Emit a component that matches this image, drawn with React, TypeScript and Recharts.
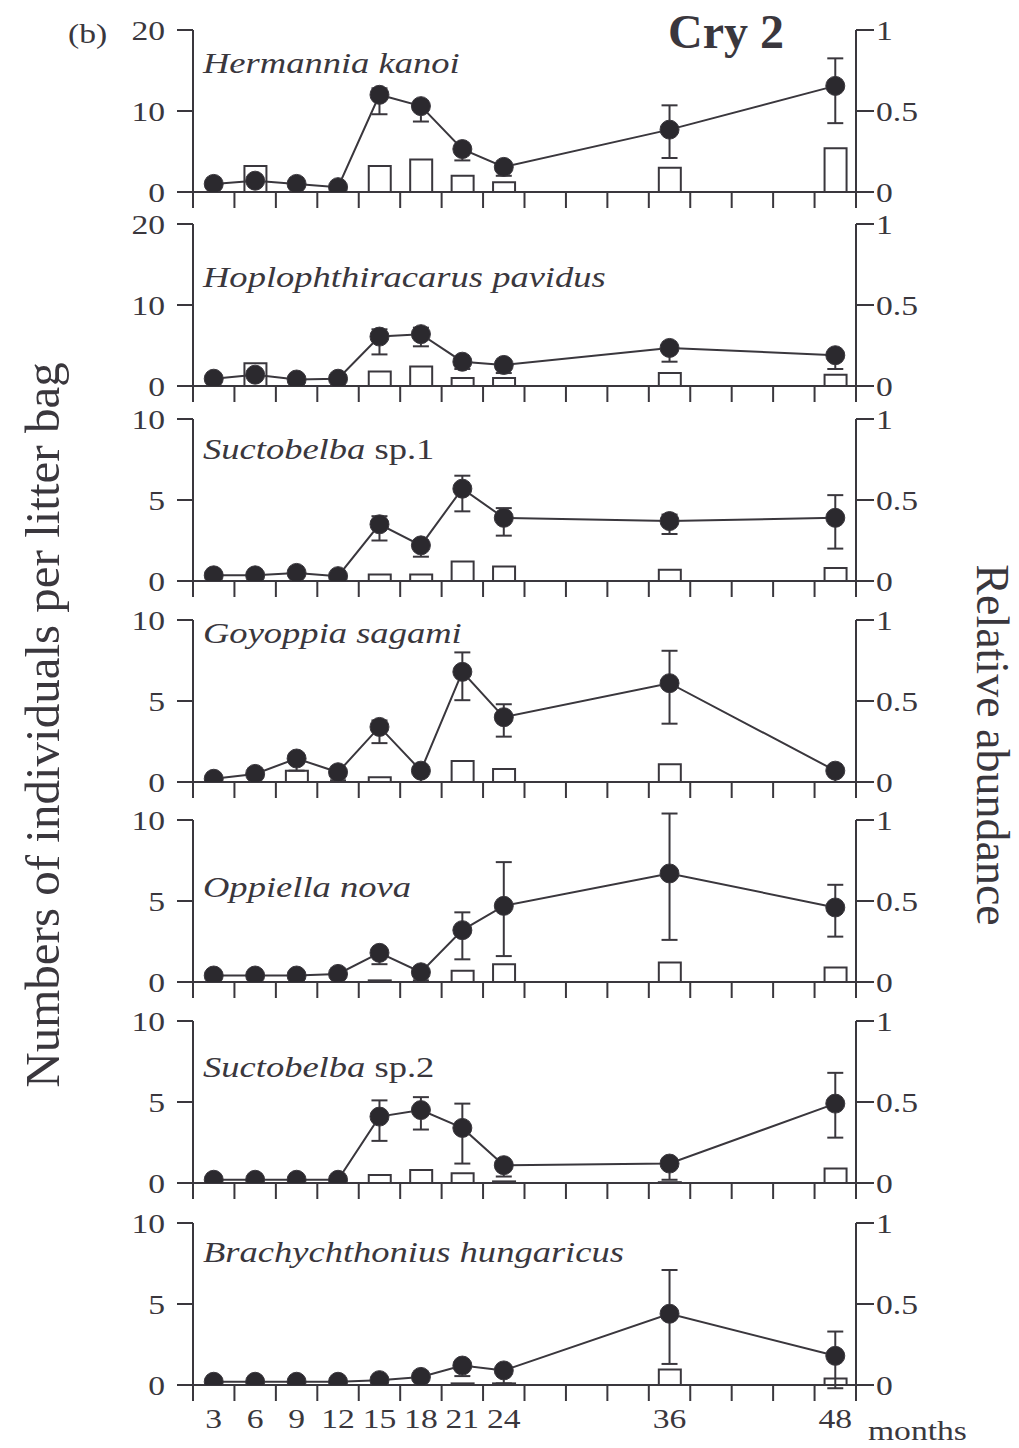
import { Bar, ComposedChart, ErrorBar, Line, XAxis, YAxis } from 'recharts';

const INK = '#3a373d';
const DOT = '#2b292e';
const FONT = '"Liberation Serif", "Times New Roman", serif';

// sampling months and axis ticks
const months = [3, 6, 9, 12, 15, 18, 21, 24, 36, 48];
const tickMarks = [1.5, 4.5, 7.5, 10.5, 13.5, 16.5, 19.5, 22.5, 25.5, 28.5, 31.5, 34.5, 37.5, 40.5, 43.5, 46.5, 49.5];
const relTicks = [0, 0.5, 1];
const ticks20 = [0, 10, 20];
const ticks10 = [0, 5, 10];

// Hermannia kanoi
const hkN = [1.0, 1.4, 1.0, 0.6, 12.0, 10.6, 5.3, 3.1, 7.7, 13.1];
const hkHi = [1.0, 1.4, 1.0, 0.6, 12.8, 11.2, 5.6, 3.5, 10.7, 16.5];
const hkLo = [1.0, 1.4, 1.0, 0.3, 9.6, 8.7, 3.9, 2.0, 4.2, 8.5];
const hkRel = [0, 0.16, 0, 0, 0.16, 0.2, 0.1, 0.06, 0.15, 0.27];

// Hoplophthiracarus pavidus
const hpN = [0.9, 1.4, 0.8, 0.9, 6.1, 6.4, 3.0, 2.6, 4.7, 3.8];
const hpHi = [0.9, 1.4, 0.8, 0.9, 7.0, 7.2, 3.1, 3.1, 4.9, 4.1];
const hpLo = [0.9, 1.0, 0.8, 0.6, 3.9, 4.9, 2.1, 1.6, 3.0, 2.1];
const hpRel = [0, 0.14, 0, 0, 0.09, 0.12, 0.05, 0.05, 0.08, 0.07];

// Suctobelba sp.1
const s1N = [0.35, 0.35, 0.5, 0.3, 3.5, 2.2, 5.7, 3.9, 3.7, 3.9];
const s1Hi = [0.35, 0.35, 0.5, 0.3, 4.0, 2.5, 6.5, 4.5, 4.1, 5.3];
const s1Lo = [0.35, 0.35, 0.5, 0.3, 2.5, 1.5, 4.3, 2.8, 2.9, 2.0];
const s1Rel = [0, 0, 0, 0, 0.04, 0.04, 0.12, 0.09, 0.07, 0.08];

// Goyoppia sagami
const gsN = [0.2, 0.5, 1.45, 0.6, 3.4, 0.7, 6.8, 4.0, 6.1, 0.7];
const gsHi = [0.2, 0.5, 1.75, 0.6, 3.8, 0.7, 8.0, 4.8, 8.1, 0.7];
const gsLo = [0.2, 0.5, 0.7, 0.1, 2.4, 0.0, 5.05, 2.8, 3.6, 0.0];
const gsRel = [0, 0, 0.07, 0, 0.03, 0, 0.13, 0.08, 0.11, 0];

// Oppiella nova
const onN = [0.4, 0.4, 0.4, 0.5, 1.8, 0.6, 3.2, 4.7, 6.7, 4.6];
const onHi = [0.4, 0.4, 0.4, 0.5, 2.0, 0.6, 4.3, 7.4, 10.4, 6.0];
const onLo = [0.4, 0.4, 0.4, 0.5, 1.1, 0.1, 1.4, 1.6, 2.6, 2.8];
const onRel = [0, 0, 0, 0, 0.01, 0, 0.07, 0.11, 0.12, 0.09];

// Suctobelba sp.2
const s2N = [0.2, 0.2, 0.2, 0.2, 4.1, 4.5, 3.4, 1.1, 1.2, 4.9];
const s2Hi = [0.2, 0.2, 0.2, 0.2, 5.1, 5.3, 4.9, 1.2, 1.5, 6.8];
const s2Lo = [0.2, 0.2, 0.2, 0.2, 2.6, 3.3, 1.2, 0.4, 0.2, 2.8];
const s2Rel = [0, 0, 0, 0, 0.05, 0.08, 0.06, 0.01, 0.005, 0.09];

// Brachychthonius hungaricus
const bhN = [0.2, 0.2, 0.2, 0.2, 0.3, 0.5, 1.2, 0.9, 4.4, 1.8];
const bhHi = [0.2, 0.2, 0.2, 0.2, 0.3, 0.5, 1.3, 1.0, 7.1, 3.3];
const bhLo = [0.2, 0.2, 0.2, 0.2, 0.3, 0.0, 0.55, 0.1, 1.3, -0.2];
const bhRel = [0, 0, 0, 0, 0, 0, 0.01, 0.01, 0.095, 0.04];

const panels = [
  { genus: 'Hermannia kanoi', suffix: '', n: hkN, hi: hkHi, lo: hkLo, rel: hkRel, max: 20, yt: ticks20, top: 30, base: 73 },
  { genus: 'Hoplophthiracarus pavidus', suffix: '', n: hpN, hi: hpHi, lo: hpLo, rel: hpRel, max: 20, yt: ticks20, top: 224, base: 287 },
  { genus: 'Suctobelba', suffix: ' sp.1', n: s1N, hi: s1Hi, lo: s1Lo, rel: s1Rel, max: 10, yt: ticks10, top: 419, base: 459 },
  { genus: 'Goyoppia sagami', suffix: '', n: gsN, hi: gsHi, lo: gsLo, rel: gsRel, max: 10, yt: ticks10, top: 620, base: 643 },
  { genus: 'Oppiella nova', suffix: '', n: onN, hi: onHi, lo: onLo, rel: onRel, max: 10, yt: ticks10, top: 820, base: 897 },
  { genus: 'Suctobelba', suffix: ' sp.2', n: s2N, hi: s2Hi, lo: s2Lo, rel: s2Rel, max: 10, yt: ticks10, top: 1021, base: 1077 },
  { genus: 'Brachychthonius hungaricus', suffix: '', n: bhN, hi: bhHi, lo: bhLo, rel: bhRel, max: 10, yt: ticks10, top: 1223, base: 1262 },
];

const PH = 162;

function ScaledTick(props: any) {
  const { x, y, payload, textAnchor, dy } = props;
  return (
    <text
      transform={`translate(${x},${y}) scale(1.2,1)`}
      textAnchor={textAnchor}
      dy={dy}
      fontFamily={FONT}
      fontSize={28}
      fill={INK}
    >
      {String(payload.value)}
    </text>
  );
}

const NoTick = () => <g />;

function Panel({ p, last }: { p: any; last: boolean }) {
  const data = months.map((m, i) => ({
    m,
    n: p.n[i],
    err: [p.n[i] - p.lo[i], p.hi[i] - p.n[i]],
    rel: p.rel[i],
  }));
  const mt = 20;
  const h = mt + PH + 18 + (last ? 50 : 0);
  const line = { stroke: INK, strokeWidth: 2 };
  return (
    <div style={{ position: 'absolute', left: 0, top: p.top - 8 - mt }}>
      <ComposedChart width={1000} height={h} data={data} margin={{ top: mt, right: 0, bottom: 0, left: 0 }}>
        <XAxis
          xAxisId={0}
          dataKey="m"
          type="number"
          domain={[1.5, 49.5]}
          ticks={tickMarks}
          interval={0}
          tick={<NoTick />}
          tickSize={16}
          height={18}
          axisLine={line}
          tickLine={line}
        />
        {last && (
          <XAxis
            xAxisId="lbl"
            dataKey="m"
            type="number"
            domain={[1.5, 49.5]}
            ticks={months}
            interval={0}
            tickSize={0}
            tickMargin={5}
            axisLine={false}
            tickLine={false}
            height={50}
            tick={(t: any) => <ScaledTick {...t} dy="0.71em" />}
          />
        )}
        <YAxis
          yAxisId="n"
          domain={[0, p.max]}
          ticks={p.yt}
          interval={0}
          allowDataOverflow
          width={185}
          tickSize={16}
          tickMargin={12}
          axisLine={line}
          tickLine={line}
          tick={(t: any) => <ScaledTick {...t} dy="0.35em" />}
        />
        <YAxis
          yAxisId="r"
          orientation="right"
          domain={[0, 1]}
          ticks={relTicks}
          interval={0}
          allowDataOverflow
          width={152}
          tickSize={18}
          tickMargin={2}
          axisLine={line}
          tickLine={line}
          tick={(t: any) => <ScaledTick {...t} dy="0.35em" />}
        />
        <Bar
          xAxisId={0}
          yAxisId="r"
          dataKey="rel"
          barSize={22}
          fill="#ffffff"
          stroke={INK}
          strokeWidth={2}
          isAnimationActive={false}
        />
        <Line
          xAxisId={0}
          yAxisId="n"
          dataKey="n"
          type="linear"
          stroke={INK}
          strokeWidth={2}
          dot={{ r: 9.5, fill: DOT, stroke: INK, strokeWidth: 1 }}
          activeDot={false}
          isAnimationActive={false}
        >
          <ErrorBar dataKey="err" direction="y" width={8} stroke={INK} strokeWidth={2} />
        </Line>
      </ComposedChart>
    </div>
  );
}

export default function App() {
  return (
    <div style={{ position: 'relative', width: 1003, height: 1432, background: '#ffffff' }}>
      {panels.map((p, i) => (
        <Panel key={i} p={p} last={i === panels.length - 1} />
      ))}
      <svg
        width={1019}
        height={1448}
        style={{ position: 'absolute', left: -8, top: -8, pointerEvents: 'none' }}
      >
        <g fontFamily={FONT} fill={INK}>
          <text transform="translate(68,43) scale(1.2,1)" fontSize={28}>(b)</text>
          <text x={668} y={48} fontSize={48} fontWeight="bold">Cry 2</text>
          {panels.map((p, i) => (
            <text key={i} transform={`translate(203,${p.base}) scale(1.26,1)`} fontSize={29}>
              <tspan fontStyle="italic">{p.genus}</tspan>
              {p.suffix && <tspan>{p.suffix}</tspan>}
            </text>
          ))}
          <text
            transform="translate(42,725) rotate(-90)"
            textAnchor="middle"
            dominantBaseline="central"
            fontSize={49}
          >
            Numbers of individuals per litter bag
          </text>
          <text
            transform="translate(992,745) rotate(90)"
            textAnchor="middle"
            dominantBaseline="central"
            fontSize={46}
          >
            Relative abundance
          </text>
          <text transform="translate(868,1440) scale(1.2,1)" fontSize={28}>months</text>
        </g>
      </svg>
    </div>
  );
}
